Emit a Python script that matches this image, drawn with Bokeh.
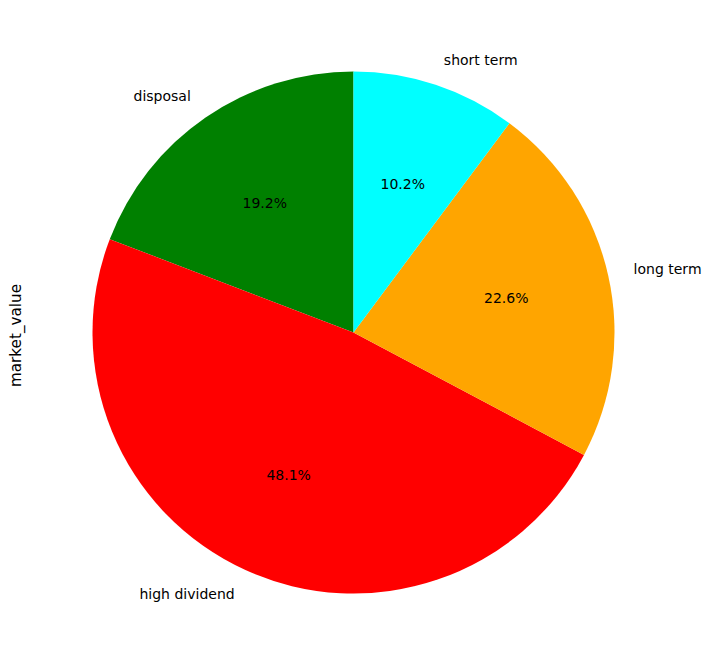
import numpy as np
from bokeh.plotting import figure
from bokeh.models import Range1d, ColumnDataSource
from bokeh.core.properties import value
from bokeh.embed import file_html
from bokeh.resources import INLINE

categories = ["disposal", "high dividend", "long term", "short term"]
market_value = [19.2, 48.1, 22.6, 10.2]
colors = ["#008000", "#ff0000", "#ffa500", "#00ffff"]
y_label = "market_value"

# layout (pixels)
W, H = 706, 660
cx, cy, R = 353.0, 332.0, 261.0  # center in figure pixels (from top-left)

vals = np.array(market_value, dtype=float)
frac = vals / vals.sum()
start_deg = 90.0
cum = np.concatenate([[0.0], np.cumsum(frac)])
starts = np.deg2rad(start_deg + 360.0 * cum[:-1])
ends = np.deg2rad(start_deg + 360.0 * cum[1:])
mids = (starts + ends) / 2

x0 = -cx / R
x1 = (W - cx) / R
y1 = cy / R
y0 = -(H - cy) / R

p = figure(width=W, height=H, x_range=Range1d(x0, x1), y_range=Range1d(y0, y1),
           output_backend="svg", toolbar_location=None, min_border=0)
p.axis.visible = False
p.grid.visible = False
p.outline_line_color = None
p.background_fill_color = "white"
p.border_fill_color = "white"

src = ColumnDataSource(dict(start=starts, end=ends, color=colors))
p.wedge(x=0, y=0, radius=1.0, start_angle="start", end_angle="end",
        direction="anticlock", fill_color="color", line_color=None, source=src)

lx = 1.1 * np.cos(mids)
ly = 1.1 * np.sin(mids)
align = ["left" if v > 0 else "right" for v in lx]
lab = ColumnDataSource(dict(x=lx, y=ly, t=categories, a=align))
p.text(x="x", y="y", text="t", text_align="a", text_baseline="middle",
       text_font=value("DejaVu Sans"), text_font_size="14px", text_color="black", source=lab)

px = 0.6 * np.cos(mids)
py = 0.6 * np.sin(mids)
pct = ["%.1f%%" % (100 * f) for f in frac]
pl = ColumnDataSource(dict(x=px, y=py, t=pct))
p.text(x="x", y="y", text="t", text_align="center", text_baseline="middle",
       text_font=value("DejaVu Sans"), text_font_size="14px", text_color="black", source=pl)

p.text(x=[(15.0 - cx) / R], y=[(cy - 335.0) / R], text=[y_label], angle=np.pi / 2,
       text_align="center", text_baseline="middle",
       text_font=value("DejaVu Sans"), text_font_size="15.2px", text_color="black")

open("out.html", "w").write(file_html(p, INLINE))
